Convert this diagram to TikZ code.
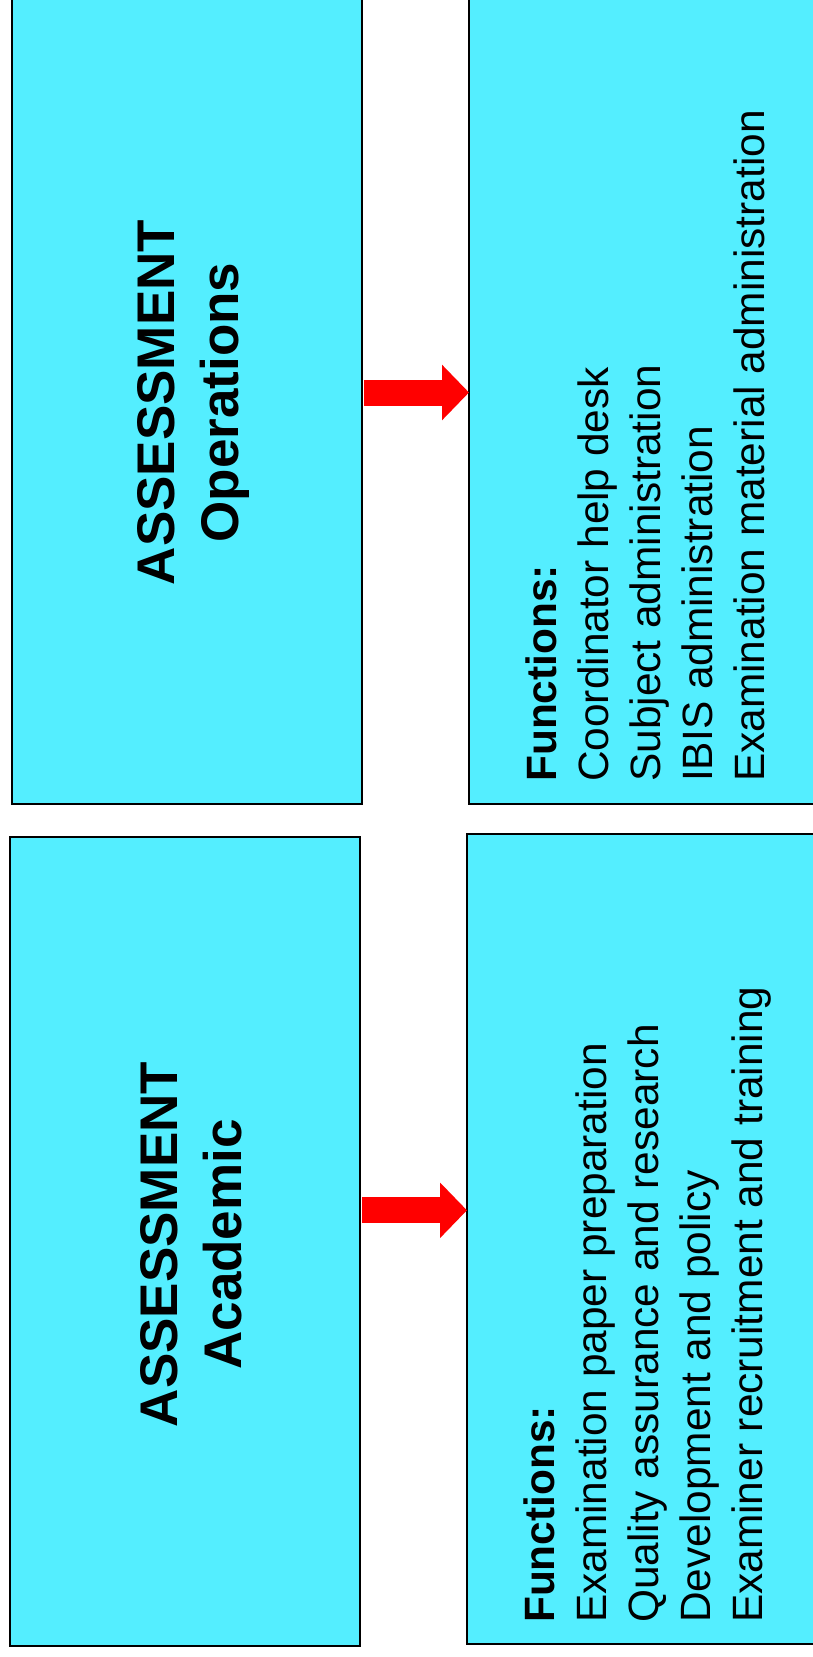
\documentclass[tikz,border=0pt]{standalone}
\usepackage{fontspec}
\setmainfont{Liberation Sans}
\usetikzlibrary{arrows.meta}
\definecolor{boxcyan}{RGB}{84,238,255}
\tikzset{
  unitbox/.style={draw=black, line width=2pt, fill=boxcyan, rectangle,
    inner sep=0pt, outer sep=0pt, anchor=north west},
  titletext/.style={rotate=90, align=center, inner sep=0pt,
    font=\bfseries\fontsize{53}{64}\selectfont},
  functext/.style={rotate=90, align=left, inner sep=0pt, anchor=north west,
    font=\fontsize{42.4}{51.8}\selectfont},
  bigarrow/.style={draw=red, line width=26pt,
    -{Triangle[length=27pt, width=54pt]}, shorten <=2pt},
}
\begin{document}
\begin{tikzpicture}[x=1pt, y=-1pt]
  \useasboundingbox (0,0) rectangle (813,1657);
  \clip (0,0) rectangle (813,1657);

  % upper row: operations unit and its functions
  \node[unitbox, minimum width=350pt, minimum height=809pt] (opsL) at (12,-5) {};
  \node[unitbox, minimum width=360pt, minimum height=809pt] (opsR) at (469,-5) {};
  % lower row: academic unit and its functions
  \node[unitbox, minimum width=350pt, minimum height=809pt] (acaL) at (10,837) {};
  \node[unitbox, minimum width=360pt, minimum height=810pt] (acaR) at (467,834) {};

  \node[titletext] (opsT) at ([xshift=6pt, yshift=-3pt]opsL.center) {ASSESSMENT\\Operations};
  \node[titletext] (acaT) at ([xshift=6pt, yshift=-3pt]acaL.center) {ASSESSMENT\\Academic};

  \node[functext] (opsF) at (526,782) {\textbf{Functions:}\\
    Coordinator help desk\\
    Subject administration\\
    IBIS administration\\
    Examination material administration};
  \node[functext] (acaF) at (524,1623) {\textbf{Functions:}\\
    Examination paper preparation\\
    Quality assurance and research\\
    Development and policy\\
    Examiner recruitment and training};

  % block arrows from each unit to its list of functions
  \coordinate (yops) at (0,392.5);
  \coordinate (yaca) at (0,1210.3);
  \draw[bigarrow] (opsL.east |- yops) -- (opsR.west |- yops);
  \draw[bigarrow] (acaL.east |- yaca) -- (acaR.west |- yaca);
\end{tikzpicture}
\end{document}
